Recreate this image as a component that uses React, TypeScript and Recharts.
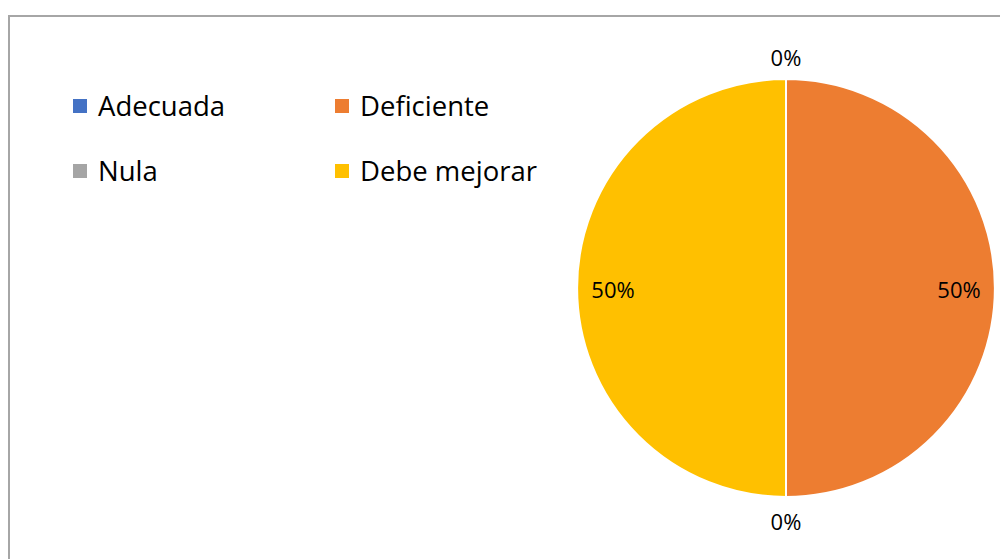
import React from 'react';
import { PieChart, Pie, Cell } from 'recharts';

const categories = ['Adecuada', 'Deficiente', 'Nula', 'Debe mejorar'];
const values = [0, 50, 0, 50];
const colors = ['#4472C4', '#ED7D31', '#A5A5A5', '#FFC000'];

const data = categories.map((name, i) => ({ name, value: values[i] }));

const RAD = Math.PI / 180;
const FONT = '"Open Sans", "Noto Sans", sans-serif';

function renderLabel(props: any) {
  const { cx, cy, midAngle, outerRadius, percent, value } = props;
  const r = value === 0 ? outerRadius + 23 : outerRadius - 36;
  const x = cx + r * Math.cos(-midAngle * RAD);
  const y = cy + r * Math.sin(-midAngle * RAD);
  return (
    <text
      x={x}
      y={y + 1}
      textAnchor="middle"
      dominantBaseline="central"
      fill="#000"
      style={{ fontSize: 22, fontFamily: FONT }}
    >
      {`${Math.round(percent * 100)}%`}
    </text>
  );
}

function ChartLegend() {
  return (
    <div
      style={{
        position: 'absolute',
        left: 73,
        top: 91,
        display: 'grid',
        gridTemplateColumns: '262px 240px',
        rowGap: 36,
        fontFamily: FONT,
        fontSize: 27.5,
        color: '#000',
      }}
    >
      {data.map((d, i) => (
        <div key={d.name} style={{ display: 'flex', alignItems: 'center', height: 29 }}>
          <span
            style={{
              width: 14,
              height: 14,
              background: colors[i],
              marginRight: 11,
              display: 'inline-block',
            }}
          />
          <span>{d.name}</span>
        </div>
      ))}
    </div>
  );
}

export default function App() {
  return (
    <div style={{ position: 'absolute', left: 0, top: 0, width: 1000, height: 559, background: '#fff', overflow: 'hidden' }}>
      <div
        style={{
          position: 'absolute',
          left: 8,
          top: 15,
          width: 1010,
          height: 560,
          border: '2px solid #A6A6A6',
          boxSizing: 'border-box',
        }}
      />
      <div style={{ position: 'absolute', left: 0, top: 0 }}>
        <PieChart width={1000} height={559} margin={{ top: 0, right: 0, bottom: 0, left: 0 }}>
          <Pie
            data={data}
            dataKey="value"
            nameKey="name"
            cx={786}
            cy={288}
            outerRadius={209}
            startAngle={90}
            endAngle={-270}
            stroke="#fff"
            strokeWidth={2}
            label={renderLabel}
            labelLine={false}
            isAnimationActive={false}
          >
            {data.map((d, i) => (
              <Cell key={d.name} fill={colors[i]} />
            ))}
          </Pie>
        </PieChart>
      </div>
      <ChartLegend />
    </div>
  );
}
